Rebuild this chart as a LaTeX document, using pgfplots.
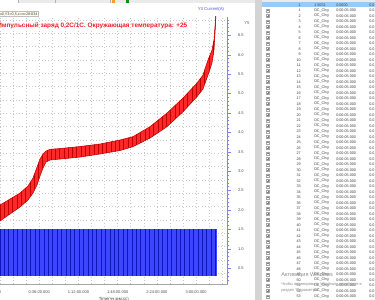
\documentclass[border=0pt]{standalone}
\usepackage{fontspec}
\setmainfont{Liberation Sans}
\usepackage{pgfplots}
\pgfplotsset{compat=1.18}
\usepackage{pgfplotstable}
\usepgfplotslibrary{fillbetween}
\usetikzlibrary{patterns.meta}
\definecolor{titlered}{RGB}{240,30,40}
\definecolor{bandred}{RGB}{255,40,40}
\definecolor{stripered}{RGB}{195,0,0}
\definecolor{bandblue}{RGB}{60,70,255}
\definecolor{stripeblue}{RGB}{20,20,190}
\definecolor{axblue}{RGB}{130,130,255}
\definecolor{gridgray}{RGB}{200,200,200}
\definecolor{splitgray}{RGB}{212,212,212}
\definecolor{selblue}{RGB}{153,201,245}

% charge voltage band: time (min), upper (1C pulse) and lower (0.2C) voltage
\pgfplotstableread{
t vu vl
0 2.912 2.792
9.18 2.957 2.845
18.36 3.002 2.897
25.7 3.055 2.950
30.3 3.115 3.002
34.0 3.197 3.062
36.7 3.257 3.130
39.5 3.295 3.190
42.2 3.317 3.235
45.9 3.330 3.250
55.1 3.336 3.257
73.4 3.351 3.272
91.8 3.370 3.295
110.1 3.400 3.321
122.1 3.425 3.350
137.7 3.500 3.415
153.3 3.602 3.500
168.0 3.715 3.612
180.8 3.827 3.725
186.3 3.887 3.782
190.9 4.000 3.887
194.6 4.075 3.977
196.4 4.150 4.075
197.8 4.300 4.262
198.7 4.450 4.450
}\redband

\begin{document}
\begin{tikzpicture}
\begin{scope}[x=0.75pt,y=-0.75pt,yshift=225pt]
% top tab strip
\fill[black!8] (0,0) rectangle (255,3);
\fill[white] (0,0) rectangle (18,3);
\draw[black!30,line width=0.3pt] (18,0)--(18,3) (55,0)--(55,3) (110,0)--(110,3);
\fill[orange!80] (112,0.3) rectangle (115,2.7);
\fill[green!60!black] (126,0.3) rectangle (129,2.7);
\end{scope}

\begin{axis}[
  at={(0pt,12pt)}, anchor=south west, scale only axis,
  width=170.78pt, height=200.25pt,
  xmin=0, xmax=209, ymin=2.32, ymax=4.3225,
  xtick={0,12,...,204}, ytick={2.4,2.5,...,4.35},
  xticklabels={}, yticklabels={},
  major tick length=0pt,
  grid=major, grid style={gridgray, dotted, line width=0.45pt},
  axis line style={draw=none},
]
\addplot[name path=U, stripered, line width=0.4pt] table[x=t,y=vu]{\redband};
\addplot[name path=L, stripered, line width=0.4pt] table[x=t,y=vl]{\redband};
\addplot[fill=bandred, draw=none] fill between[of=U and L];
\addplot[pattern={Lines[angle=90,distance=3.2pt,line width=0.55pt]}, pattern color=stripered, draw=none] fill between[of=U and L];
\end{axis}

\begin{axis}[
  at={(0pt,12pt)}, anchor=south west, scale only axis,
  width=170.78pt, height=200.25pt,
  xmin=0, xmax=209, ymin=0.093, ymax=6.974,
  axis x line*=bottom, axis y line*=right,
  x axis line style={black!35, line width=0.4pt, -},
  y axis line style={axblue, line width=0.6pt, -},
  xtick={0,36,72,108,144,180},
  xticklabels={0,0:36:00.000,1:12:00.000,1:48:00.000,2:24:00.000,3:00:00.000},
  x tick style={draw=none},
  ytick={0.5,1,...,6.5},
  minor ytick={0.2,0.3,...,6.95},
  y tick style={axblue, line width=0.4pt},
  major tick length=2.2pt, minor tick length=1.2pt,
  tick align=outside,
  xticklabel style={font=\fontsize{3}{3.5}\selectfont, text=black!70, yshift=1pt},
  yticklabel style={font=\fontsize{3}{3.5}\selectfont, text=black!70, xshift=2pt,
     /pgf/number format/.cd, fixed, fixed zerofill, precision=1, assume math mode=true},
  xlabel={Time(чч:мм:сс)},
  xlabel style={font=\fontsize{3.3}{4}\selectfont, text=black!75, yshift=4pt},
]
\addplot[name path=BH, draw=none] coordinates {(0,1.5) (198.9,1.5)};
\addplot[name path=BL, draw=none] coordinates {(0,0.3) (198.9,0.3)};
\addplot[fill=bandblue, draw=none] fill between[of=BH and BL];
\addplot[pattern={Lines[angle=90,distance=3.3pt,line width=0.6pt]}, pattern color=stripeblue, draw=none] fill between[of=BH and BL];
\end{axis}

\begin{scope}[x=0.75pt,y=-0.75pt,yshift=225pt]
% chart texts
\node[anchor=west, inner sep=0.6pt, fill=yellow!6, draw=black!25, line width=0.3pt, text=black!75, font=\fontsize{2.8}{3}\selectfont] at (-1,14) {x0,Y3=0,5,x=x=28:834};
\node[anchor=west, inner sep=0pt, text=titlered, font=\fontsize{4.8}{6}\selectfont\bfseries] at (-3,25.5) {Импульсный заряд 0,2C/1C. Окружающая температура: +25};
\node[inner sep=0pt, text=blue!70, font=\fontsize{3.2}{4}\selectfont] at (211,9.5) {Y3 Current(A)};
\node[inner sep=0pt, text=black!60, font=\fontsize{3.2}{4}\selectfont] at (247,23) {Y5};

% splitter
\fill[splitgray] (255,0) rectangle (262,300);
% table
\fill[white] (262,0) rectangle (375,300);
\fill[black!8] (262,0) rectangle (375,2.2);
\fill[selblue] (262,2.2) rectangle (375,7.4);
\begin{scope}[font=\fontsize{2.8}{3}\selectfont, text=black!75]
\node[anchor=east,inner sep=0pt] at (301,4.8) {1};
\node[anchor=west,inner sep=0pt] at (314,4.8) {1 5051};
\node[anchor=west,inner sep=0pt] at (336,4.8) {0.0000};
\node[anchor=west,inner sep=0pt] at (369,4.8) {0.0};
\foreach \k in {1,...,53}{
  \pgfmathsetmacro\yy{10.3+5.5*(\k-1)}
  \draw[black!35,line width=0.25pt] (266.5,\yy-1.4) rectangle (269.3,\yy+1.4);
  \draw[black!50,line width=0.25pt] (267.2,\yy)--(268.6,\yy) (267.9,\yy-0.7)--(267.9,\yy+0.7);
  \node[anchor=east,inner sep=0pt] at (301,\yy) {\k};
  \node[anchor=west,inner sep=0pt] at (314,\yy) {DC\_Chg};
  \node[anchor=west,inner sep=0pt] at (336,\yy) {0:00:05.000};
  \node[anchor=west,inner sep=0pt] at (369,\yy) {0.0};
}
\end{scope}
% watermark
\node[anchor=west, inner sep=0pt, text=black!45, font=\fontsize{4.2}{5}\selectfont] at (281,275.5) {Активация Windows};
\node[anchor=west, inner sep=0pt, text=black!45, font=\fontsize{3}{3.5}\selectfont] at (281,284) {Чтобы активировать Windows, перейдите в};
\node[anchor=west, inner sep=0pt, text=black!45, font=\fontsize{3}{3.5}\selectfont] at (281,290.5) {раздел "Параметры".};
\end{scope}
\pgfresetboundingbox
\path[use as bounding box] (0pt,0pt) rectangle (281.25pt,225pt);
\end{tikzpicture}
\end{document}
